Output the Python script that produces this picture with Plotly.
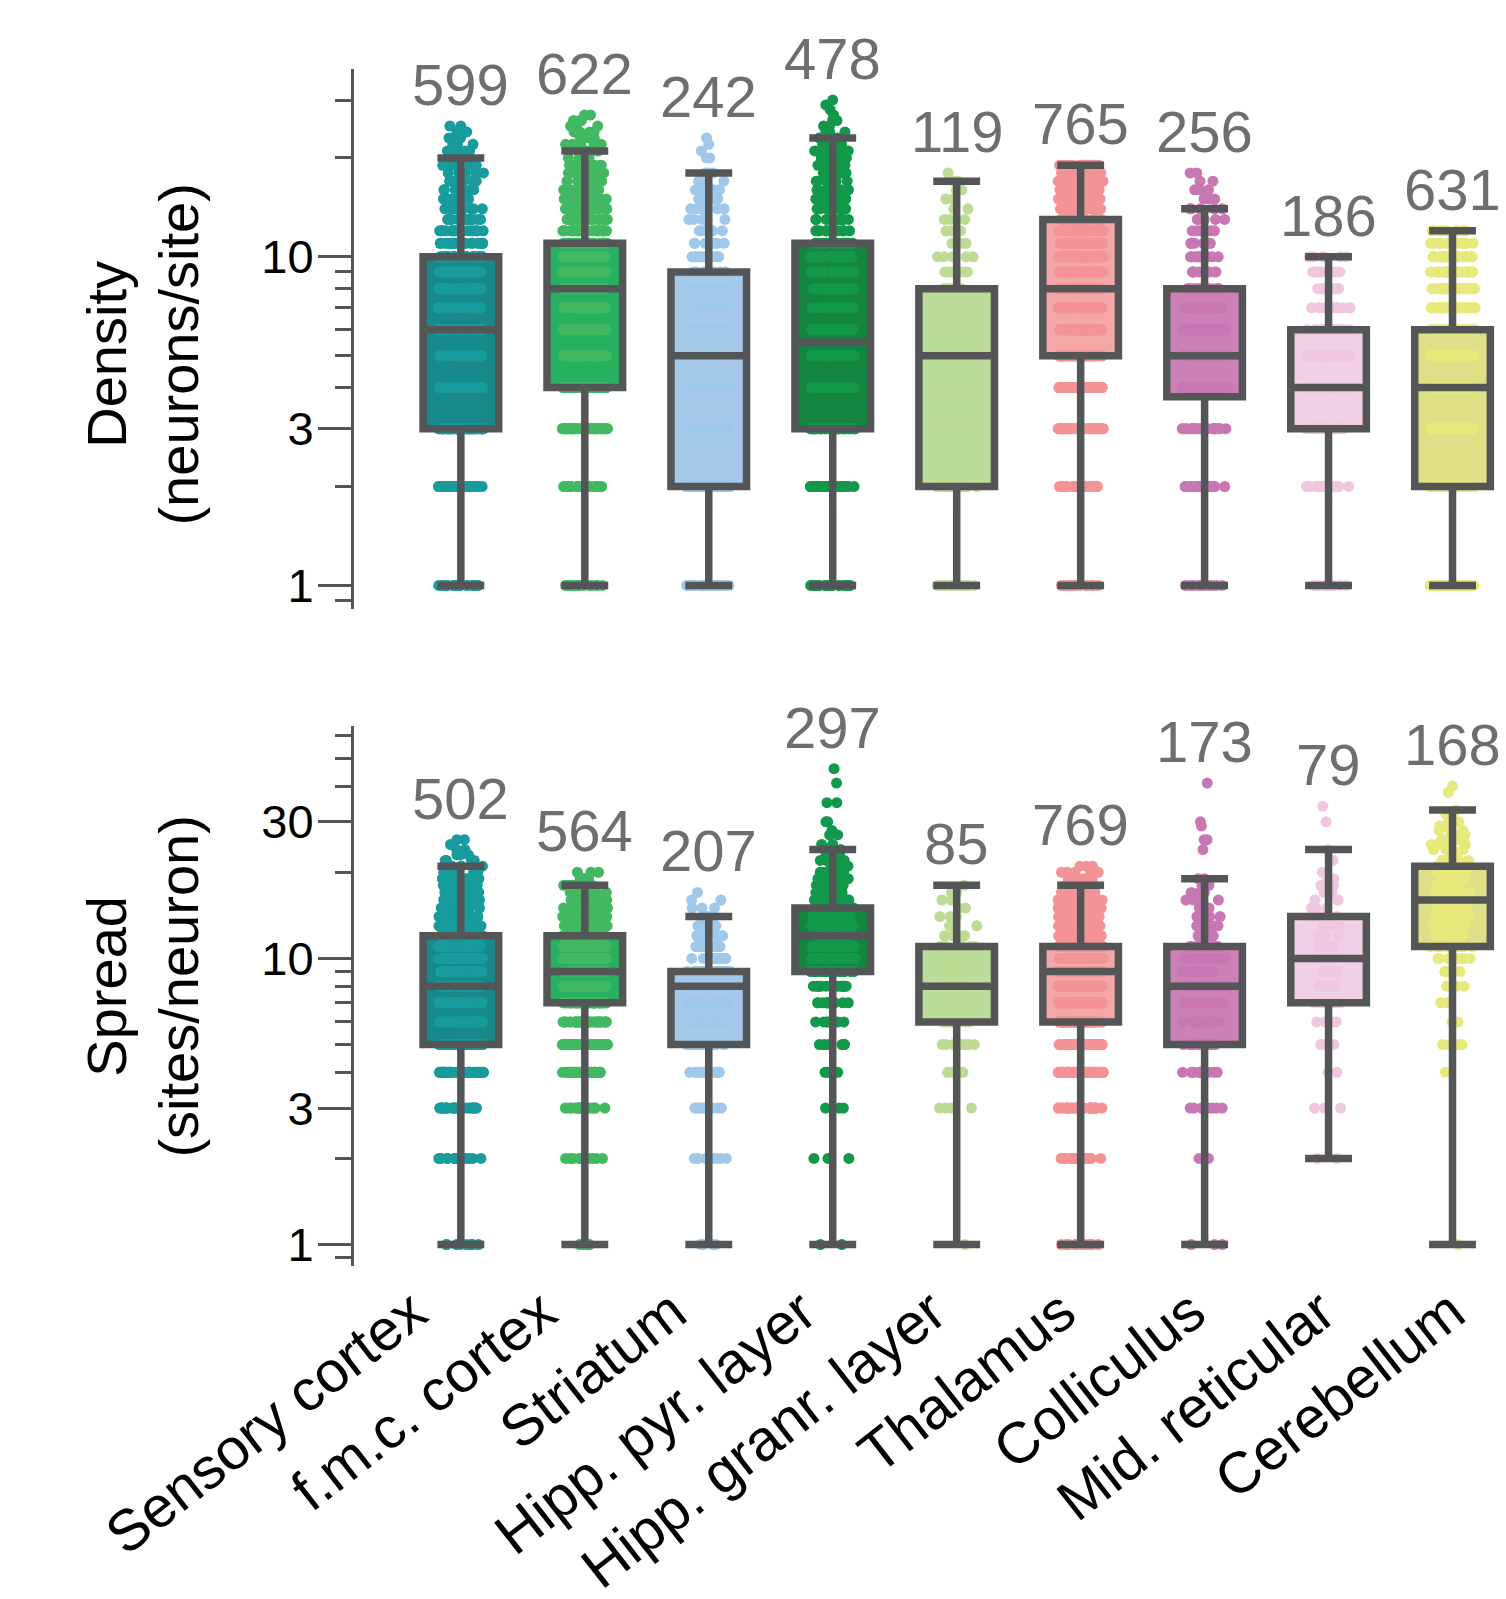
import numpy as np
import plotly.graph_objects as go

FONT = "Liberation Sans, Arial, sans-serif"
AXIS_COLOR = "#545557"
COUNT_COLOR = "#6d6e71"

categories = ["Sensory cortex", "f.m.c. cortex", "Striatum", "Hipp. pyr. layer",
              "Hipp. granr. layer", "Thalamus", "Colliculus", "Mid. reticular", "Cerebellum"]
point_colors = ["#179b9c", "#42b862", "#9fc8ea", "#12984a", "#bddb94",
                "#f39396", "#c877b3", "#efc8e0", "#e7e97a"]
box_fills = ["#17898a", "#27b05f", "#a6c9ea", "#138540", "#bcdd9a",
             "#f4a7a7", "#cb80b6", "#f0d0e4", "#dedf86"]

# ---- Density (neurons/site): number of neurons per value 1, 2, 3, ...
density_n = [599, 622, 242, 478, 119, 765, 256, 186, 631]
density_sensory = [20, 45, 95, 60, 55, 50, 45, 40, 35, 30, 22, 18, 15, 12, 10, 9, 7, 6, 5, 5, 4, 3, 3, 3, 2]
density_fmc = [15, 30, 55, 60, 45, 45, 45, 45, 40, 40, 35, 28, 24, 20, 17, 14, 12, 10, 8, 7, 6, 5, 4, 4, 3, 3, 2]
density_striatum = [25, 45, 25, 20, 15, 15, 14, 14, 12, 10, 8, 7, 6, 5, 5, 4, 4, 3, 0, 2, 1, 1, 1]
density_pyr = [20, 40, 50, 50, 55, 40, 30, 25, 22, 20, 18, 14, 12, 11, 10, 9, 8, 7, 6, 6, 5, 5, 4, 3, 2, 2, 1, 1, 1, 1]
density_granr = [10, 22, 12, 10, 10, 9, 8, 8, 6, 5, 4, 3, 3, 2, 2, 2, 2, 1]
density_thalamus = [15, 30, 50, 65, 70, 65, 60, 55, 50, 45, 40, 35, 32, 30, 28, 27, 25, 23, 20]
density_colliculus = [10, 20, 30, 35, 35, 28, 22, 18, 12, 10, 8, 7, 6, 5, 3, 3, 2, 2]
density_midret = [8, 18, 30, 40, 30, 22, 14, 10, 9, 5]
density_cerebellum = [70, 140, 85, 70, 55, 50, 40, 35, 30, 25, 18, 13]

density_q1 = [3, 4, 2, 3, 2, 5, 3.75, 3, 2]
density_median = [6, 8, 5, 5.5, 5, 8, 5, 4, 4]
density_q3 = [10, 11, 9, 11, 8, 13, 8, 6, 6]
density_lowerfence = [1, 1, 1, 1, 1, 1, 1, 1, 1]
density_upperfence = [20, 21, 18, 23, 17, 19, 14, 10, 12]

# ---- Spread (sites/neuron): number of neurons per value 1, 2, 3, ...
spread_n = [502, 564, 207, 297, 85, 769, 173, 79, 168]
spread_sensory = [8, 15, 25, 40, 45, 45, 40, 40, 35, 35, 30, 25, 20, 17, 15, 13, 11, 10, 8, 7, 6, 4, 3, 2, 1, 2]
spread_fmc = [5, 10, 18, 27, 35, 40, 55, 55, 55, 50, 45, 40, 32, 27, 22, 17, 13, 10, 5, 3]
spread_striatum = [4, 8, 10, 15, 20, 18, 18, 25, 35, 15, 12, 9, 7, 5, 3, 2, 1]
spread_pyr = [2, 3, 4, 5, 6, 8, 12, 16, 22, 24, 24, 24, 22, 20, 18, 15, 12, 10, 9, 8, 7, 6, 5, 4,
              2, 0, 2, 1, 0, 2, 0, 0, 0, 0, 2, 0, 0, 0, 0, 0, 1, 0, 0, 0, 0, 1]
spread_granr = [1, 0, 4, 5, 8, 10, 8, 9, 8, 8, 7, 4, 3, 3, 2, 2, 2, 1]
spread_thalamus = [10, 20, 30, 45, 60, 80, 80, 75, 70, 65, 60, 40, 32, 25, 20, 17, 14, 12, 6, 5, 3]
spread_colliculus = [3, 5, 8, 12, 15, 15, 14, 15, 14, 14, 13, 9, 7, 6, 5, 4, 3, 3, 2,
                     0, 0, 0, 0, 1, 0, 2, 0, 0, 1, 1, 0, 0, 0, 0, 0, 0, 0, 0, 0, 0, 1]
spread_midret = [0, 2, 3, 2, 3, 4, 7, 7, 7, 8, 6, 5, 4, 4, 3, 3, 2, 2, 2, 1, 0, 1, 0, 1,
                 0, 0, 0, 0, 0, 1, 0, 0, 0, 1]
spread_cerebellum = [1, 0, 0, 1, 4, 2, 2, 3, 5, 8, 14, 12, 11, 10, 9, 9, 8, 8, 8, 7, 7, 6, 5, 5,
                     4, 4, 3, 3, 2, 2, 1, 1, 1, 0, 0, 0, 0, 1, 0, 1]

spread_q1 = [5, 7, 5, 9, 6, 6, 5, 7, 11]
spread_median = [8, 9, 8, 12, 8, 9, 8, 10, 16]
spread_q3 = [12, 12, 9, 15, 11, 11, 11, 14, 21]
spread_lowerfence = [1, 1, 1, 1, 1, 1, 1, 2, 1]
spread_upperfence = [21, 18, 14, 24, 18, 18, 19, 24, 33]

density_tickvals = [1, 3, 10]
density_minor = [0.9, 2, 4, 5, 6, 7, 8, 9, 20, 30]
spread_tickvals = [1, 3, 10, 30]
spread_minor = [0.9, 2, 4, 5, 6, 7, 8, 9, 20, 40, 50, 60]

panels = [
    dict(xa="x", ya="y",
         counts=[density_sensory, density_fmc, density_striatum, density_pyr, density_granr,
                 density_thalamus, density_colliculus, density_midret, density_cerebellum],
         q1=density_q1, med=density_median, q3=density_q3,
         lo=density_lowerfence, hi=density_upperfence, n=density_n),
    dict(xa="x2", ya="y2",
         counts=[spread_sensory, spread_fmc, spread_striatum, spread_pyr, spread_granr,
                 spread_thalamus, spread_colliculus, spread_midret, spread_cerebellum],
         q1=spread_q1, med=spread_median, q3=spread_q3,
         lo=spread_lowerfence, hi=spread_upperfence, n=spread_n),
]

BOX_W = 0.61
LINE_W = 7.5
SPARSE = 5  # values shared by few neurons get their own jitter group

fig = go.Figure()
annotations = []
for p in panels:
    # box fills (below the points)
    for i, cat in enumerate(categories):
        fig.add_trace(go.Box(
            x=[cat], q1=[p["q1"][i]], median=[p["med"][i]], q3=[p["q3"][i]],
            lowerfence=[p["lo"][i]], upperfence=[p["hi"][i]],
            xaxis=p["xa"], yaxis=p["ya"], width=BOX_W,
            fillcolor=box_fills[i], line=dict(width=0, color=box_fills[i]),
            boxpoints=False, hoverinfo="skip", showlegend=False))
    # jittered points
    for i, cat in enumerate(categories):
        c = np.asarray(p["counts"][i])
        levels = np.arange(1, len(c) + 1)
        vals = np.repeat(levels, c)
        dense = np.repeat(levels, np.where(c > SPARSE, c, 0))
        sparse = np.repeat(levels, np.where(c <= SPARSE, c, 0))
        for grp in (dense, sparse):
            if len(grp) == 0:
                continue
            fig.add_trace(go.Box(
                x=[cat] * len(grp), y=grp, xaxis=p["xa"], yaxis=p["ya"], width=BOX_W,
                boxpoints="all", jitter=0.6, pointpos=0,
                fillcolor="rgba(0,0,0,0)", line=dict(width=0, color="rgba(0,0,0,0)"),
                marker=dict(color=point_colors[i], size=11, opacity=1, line=dict(width=0)),
                hoverinfo="skip", showlegend=False))
        ymax = max(float(vals.max()), p["hi"][i])
        annotations.append(dict(
            x=cat, y=np.log10(ymax), xref=p["xa"], yref=p["ya"], text=str(p["n"][i]),
            showarrow=False, yanchor="bottom", yshift=7,
            font=dict(family=FONT, size=58, color=COUNT_COLOR)))
    # box outlines, medians, whiskers (above the points)
    fig.add_trace(go.Box(
        x=categories, q1=p["q1"], median=p["med"], q3=p["q3"],
        lowerfence=p["lo"], upperfence=p["hi"],
        xaxis=p["xa"], yaxis=p["ya"], width=BOX_W, whiskerwidth=0.62,
        fillcolor="rgba(0,0,0,0)", line=dict(width=LINE_W, color=AXIS_COLOR),
        boxpoints=False, hoverinfo="skip", showlegend=False))

# empty carrier trace so the label axis (x3) is drawn
fig.add_trace(go.Scatter(x=categories, y=[None] * len(categories), xaxis="x3", yaxis="y2",
                         mode="markers", hoverinfo="skip", showlegend=False))

annotations.append(dict(
    text="Density<br>(neurons/site)", xref="paper", yref="paper", x=-0.1845, y=0.7611,
    textangle=-90, xanchor="center", yanchor="middle", showarrow=False,
    font=dict(family=FONT, size=56, color="black")))
annotations.append(dict(
    text="Spread<br>(sites/neuron)", xref="paper", yref="paper", x=-0.1845, y=0.2331,
    textangle=-90, xanchor="center", yanchor="middle", showarrow=False,
    font=dict(family=FONT, size=56, color="black")))

xcommon = dict(type="category", categoryorder="array", categoryarray=categories,
               range=[-0.862, 8.383], showline=False, ticks="", showgrid=False,
               zeroline=False, domain=[0, 1], automargin=False, showticklabels=False)


def yaxis_cfg(domain, rng, tickvals, minor_vals):
    return dict(
        domain=domain, type="log", range=rng, tickmode="array",
        tickvals=tickvals, ticktext=[str(v) for v in tickvals],
        ticks="outside", ticklen=33, tickwidth=3, tickcolor=AXIS_COLOR,
        showline=True, linewidth=3, linecolor=AXIS_COLOR,
        showgrid=False, zeroline=False, automargin=False, ticklabelstandoff=-5,
        tickfont=dict(family=FONT, size=47, color="black"),
        minor=dict(tickmode="array", tickvals=minor_vals, ticks="outside",
                   ticklen=16, tickwidth=3, tickcolor=AXIS_COLOR, showgrid=False))


fig.update_layout(
    width=1506, height=1599,
    margin=dict(l=354, r=6, t=69, b=333),
    boxmode="overlay", showlegend=False,
    plot_bgcolor="white", paper_bgcolor="white",
    font=dict(family=FONT, size=45, color="black"),
    xaxis=dict(xcommon, anchor="y"),
    xaxis2=dict(xcommon, anchor="y2"),
    # category labels of the lower panel (set slightly wider apart than the boxes)
    xaxis3=dict(overlaying="x2", anchor="y2", type="category", categoryorder="array",
                categoryarray=categories, range=[-0.452, 8.380],
                tickangle=-38, showline=False, ticks="", showgrid=False, zeroline=False,
                automargin=False, side="bottom",
                tickfont=dict(family=FONT, size=58, color="black")),
    yaxis=yaxis_cfg([0.549, 1.0], [-0.0713, 1.5717], density_tickvals, density_minor),
    yaxis2=yaxis_cfg([0.0, 0.451], [-0.0747, 1.8115], spread_tickvals, spread_minor),
    annotations=annotations,
)

fig.write_html("out.html")
